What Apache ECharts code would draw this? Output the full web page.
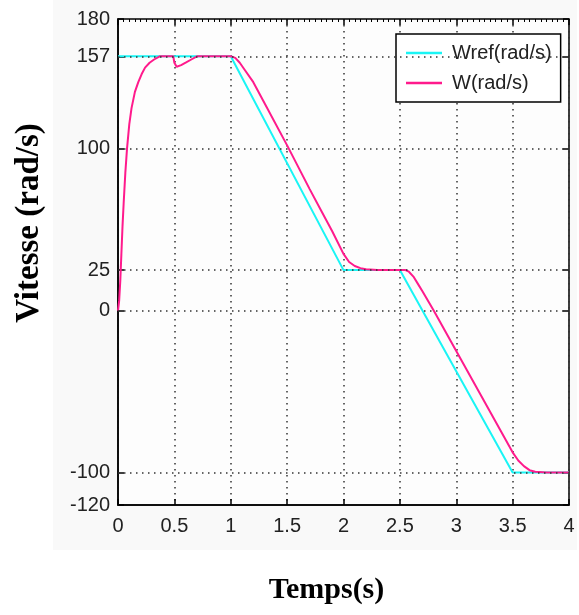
<!DOCTYPE html>
<html><head><meta charset="utf-8">
<script src="https://cdn.jsdelivr.net/npm/echarts@6/dist/echarts.min.js"></script>
<style>html,body{margin:0;padding:0;background:#fff}#c{width:579px;height:615px}</style>
</head><body><div id="c"></div>
<script>
// Reference speed Wref(rad/s)
var tRef = [0, 1, 2, 2.5, 3.5, 4];
var wRef = [157, 157, 25, 25, -100, -100];
// Measured speed W(rad/s)
var tW = [0, 0.01, 0.02, 0.03, 0.04, 0.05, 0.065, 0.08, 0.1, 0.12, 0.15, 0.18, 0.21, 0.24, 0.28, 0.32, 0.37, 0.49, 0.5, 0.52, 0.56, 0.6, 0.65, 0.7, 1.0, 1.04, 1.08, 1.12, 1.2, 1.3, 1.5, 1.7, 1.8, 1.9, 2.0, 2.05, 2.1, 2.15, 2.2, 2.3, 2.55, 2.58, 2.62, 2.66, 2.7, 2.8, 3.0, 3.2, 3.4, 3.5, 3.55, 3.6, 3.65, 3.7, 3.8, 4.0];
var wW = [0, 6, 18, 35, 52, 66, 85, 100, 115, 125, 135, 141, 146, 150, 153, 155, 157, 157, 153, 150.5, 151.5, 153, 155, 157, 157, 156, 153, 149, 141, 128, 102, 75, 62, 49, 35, 30, 27.5, 26.2, 25.5, 25, 25, 24, 21, 16.5, 12, 0, -25, -50, -75, -87.5, -92.5, -96, -98.5, -99.5, -100, -100];
// Axis tick values
var yTicks = [-120, -100, 0, 25, 100, 157, 180];
var yGridLines = [157, 100, 25, 0, -100];
var xTickLabels = ['0', '0.5', '1', '1.5', '2', '2.5', '3', '3.5', '4'];

function pairs(xs, ys) { return xs.map(function (x, i) { return [x, ys[i]]; }); }

var sans = "'Liberation Sans', Arial, sans-serif";
var dotted = { color: '#333', width: 1.5, type: [1.5, 4.5] };

var chart = echarts.init(document.getElementById('c'), null, { renderer: 'canvas' });
chart.setOption({
  animation: false,
  backgroundColor: '#ffffff',
  graphic: [{ type: 'rect', z: -10, shape: { x: 53, y: 0, width: 524, height: 550 }, style: { fill: '#f9f9f9' }, silent: true }],
  grid: { left: 118, right: 10, top: 19, bottom: 110, show: true, borderColor: '#000', borderWidth: 1.5, backgroundColor: '#fdfdfd' },
  legend: {
    data: ['Wref(rad/s)', 'W(rad/s)'],
    orient: 'vertical', left: 396, top: 34,
    icon: 'rect', itemWidth: 36, itemHeight: 2.5,
    padding: [9, 9, 9, 10], itemGap: 10,
    backgroundColor: '#fff', borderColor: '#000', borderWidth: 1.5,
    textStyle: { fontFamily: sans, fontSize: 20, color: '#222', padding: [0, 0, 0, 5] }
  },
  xAxis: [{
    type: 'value', min: 0, max: 4, interval: 0.5,
    name: 'Temps(s)', nameLocation: 'middle', nameGap: 70,
    nameTextStyle: { fontFamily: "'Liberation Serif', 'Times New Roman', serif", fontWeight: 'bold', fontSize: 30, color: '#000', padding: [0, 34, 0, 0] },
    axisLine: { show: true, onZero: false, lineStyle: { color: '#000', width: 1.5 } },
    axisTick: { show: true, inside: true, length: 6, lineStyle: { color: '#000', width: 1.5 } },
    axisLabel: { fontFamily: sans, fontSize: 20, color: '#222', margin: 11, formatter: function (v) { return xTickLabels[Math.round(v * 2)]; } },
    splitLine: { show: true, lineStyle: dotted }
  }, {
    type: 'value', min: 0, max: 4, interval: 0.5, position: 'top',
    axisLine: { show: false, onZero: false },
    axisTick: { show: true, inside: true, length: 6, lineStyle: { color: '#000', width: 1.5 } },
    minorTick: { show: true, splitNumber: 10, length: 3, lineStyle: { color: '#000', width: 1 } },
    axisLabel: { show: false }, splitLine: { show: false }
  }],
  yAxis: [{
    type: 'value', min: -120, max: 180,
    name: 'Vitesse (rad/s)', nameLocation: 'middle', nameGap: 72, nameRotate: 90,
    nameTextStyle: { fontFamily: "'Liberation Serif', 'Times New Roman', serif", fontWeight: 'bold', fontSize: 33, color: '#000', padding: [0, 0, 0, 78] },
    axisLine: { show: true, onZero: false, lineStyle: { color: '#000', width: 1.5 } },
    axisTick: { show: true, inside: true, length: 6, customValues: yTicks, lineStyle: { color: '#000', width: 1.5 } },
    axisLabel: { fontFamily: sans, fontSize: 20, color: '#222', margin: 8, customValues: yTicks },
    splitLine: { show: false }
  }, {
    type: 'value', min: -120, max: 180, position: 'right',
    axisLine: { show: false, onZero: false },
    axisTick: { show: true, inside: true, length: 6, customValues: yTicks, lineStyle: { color: '#000', width: 1.5 } },
    axisLabel: { show: false }, splitLine: { show: false }
  }],
  series: [{
    name: 'grid', type: 'line', data: [], z: 1, silent: true,
    markLine: { silent: true, symbol: 'none', label: { show: false }, lineStyle: dotted,
      data: yGridLines.map(function (v) { return { yAxis: v }; }) }
  }, {
    name: 'Wref(rad/s)', type: 'line', data: pairs(tRef, wRef), symbol: 'none', z: 3,
    lineStyle: { color: '#19f5f5', width: 2 }, itemStyle: { color: '#19f5f5' }
  }, {
    name: 'W(rad/s)', type: 'line', data: pairs(tW, wW), symbol: 'none', z: 4,
    lineStyle: { color: '#ff1a8c', width: 2 }, itemStyle: { color: '#ff1a8c' }
  }]
});
</script></body></html>
